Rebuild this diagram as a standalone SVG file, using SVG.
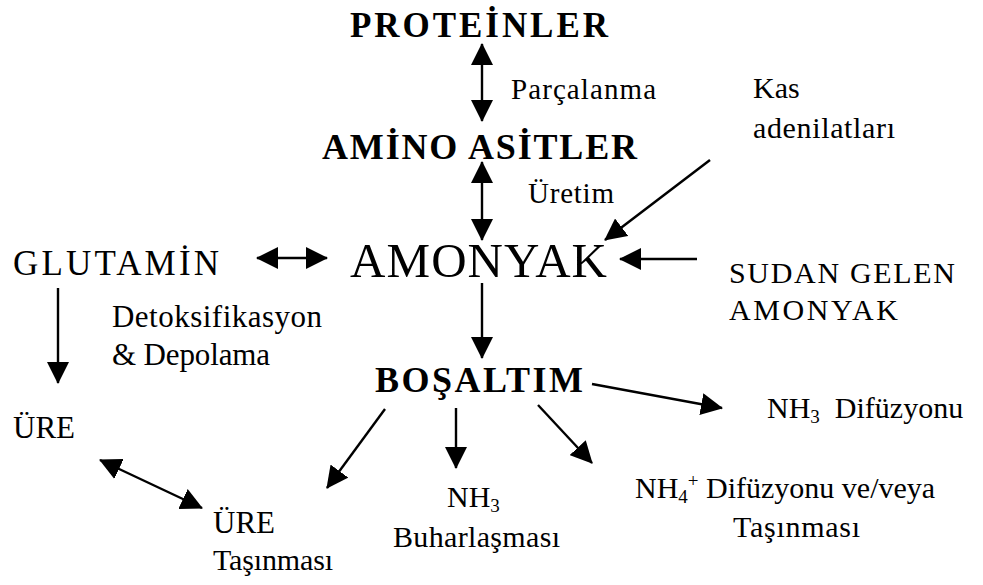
<svg xmlns="http://www.w3.org/2000/svg" width="983" height="585" viewBox="0 0 983 585">
<style>
text{fill:#000}
.b{font-weight:bold}
.c{stroke:#000;stroke-width:2.4;fill:none}
.one{marker-end:url(#ah)}
.two{marker-start:url(#ah);marker-end:url(#ah)}
</style>
<defs>
<marker id="ah" markerUnits="userSpaceOnUse" viewBox="0 0 22 22" markerWidth="22" markerHeight="22" refX="21" refY="11" orient="auto-start-reverse">
<path d="M0,0 L22,11 L0,22 z" fill="#000"/>
</marker>
</defs>
<rect width="983" height="585" fill="#fff"/>
<g id="connectors">
<line class="c two" x1="482" y1="44" x2="482" y2="121"/>
<line class="c two" x1="482" y1="162" x2="482" y2="240"/>
<line class="c one" x1="710" y1="160" x2="605" y2="240"/>
<line class="c one" x1="697" y1="259" x2="620" y2="259"/>
<line class="c two" x1="257" y1="258" x2="327" y2="258"/>
<line class="c one" x1="58" y1="288" x2="58" y2="383"/>
<line class="c one" x1="482" y1="283" x2="482" y2="358"/>
<line class="c one" x1="592" y1="384" x2="722" y2="408"/>
<line class="c one" x1="385" y1="409" x2="327" y2="488"/>
<line class="c one" x1="456" y1="408" x2="456" y2="468"/>
<line class="c one" x1="538" y1="405" x2="592" y2="463"/>
<line class="c two" x1="100" y1="460" x2="202" y2="508"/>
</g>
<g font-family="Liberation Serif, DejaVu Serif, Times New Roman, serif">
<g id="proteinler"><text class="b" x="350" y="37" font-size="35" textLength="258" lengthAdjust="spacing">PROTEİNLER</text></g>
<g id="parcalanma"><text x="511" y="99" font-size="29" textLength="145" lengthAdjust="spacing">Parçalanma</text></g>
<g id="aminoasitler"><text class="b" x="322" y="159" font-size="36" textLength="315" lengthAdjust="spacing">AMİNO ASİTLER</text></g>
<g id="uretim"><text x="528" y="203" font-size="29" textLength="86" lengthAdjust="spacing">Üretim</text></g>
<g id="kas"><text x="753" y="98" font-size="30">Kas</text><text x="753" y="138" font-size="30" textLength="142" lengthAdjust="spacing">adenilatları</text></g>
<g id="amonyak"><text x="350" y="277" font-size="49" textLength="257" lengthAdjust="spacing">AMONYAK</text></g>
<g id="glutamin"><text x="13" y="275" font-size="35" textLength="206" lengthAdjust="spacing">GLUTAMİN</text></g>
<g id="sudan"><text x="729" y="283" font-size="30" textLength="226" lengthAdjust="spacing">SUDAN GELEN</text><text x="729" y="320" font-size="30" textLength="169" lengthAdjust="spacing">AMONYAK</text></g>
<g id="detoks"><text x="112" y="327" font-size="31" textLength="210" lengthAdjust="spacing">Detoksifikasyon</text><text x="112" y="365" font-size="31" textLength="158" lengthAdjust="spacing">&amp; Depolama</text></g>
<g id="bosaltim"><text class="b" x="375" y="392" font-size="36" textLength="208" lengthAdjust="spacing">BOŞALTIM</text></g>
<g id="ure"><text x="13" y="438" font-size="31">ÜRE</text></g>
<g id="nh3dif"><text x="767" y="418" font-size="30">NH<tspan font-size="19" dy="5">3</tspan><tspan dy="-5" xml:space="preserve">  Difüzyonu</tspan></text></g>
<g id="uretasinmasi"><text x="213" y="533" font-size="31">ÜRE</text><text x="213" y="570" font-size="30" textLength="120" lengthAdjust="spacing">Taşınması</text></g>
<g id="nh3buhar"><text x="447" y="507" font-size="30">NH<tspan font-size="19" dy="5">3</tspan></text><text x="393" y="547" font-size="30" textLength="167" lengthAdjust="spacing">Buharlaşması</text></g>
<g id="nh4"><text x="635" y="498" font-size="30">NH<tspan font-size="19" dy="5">4</tspan><tspan font-size="19" dy="-16">+</tspan><tspan dy="11"> Difüzyonu ve/veya</tspan></text><text x="733" y="537" font-size="30" textLength="127" lengthAdjust="spacing">Taşınması</text></g>
</g>
</svg>
